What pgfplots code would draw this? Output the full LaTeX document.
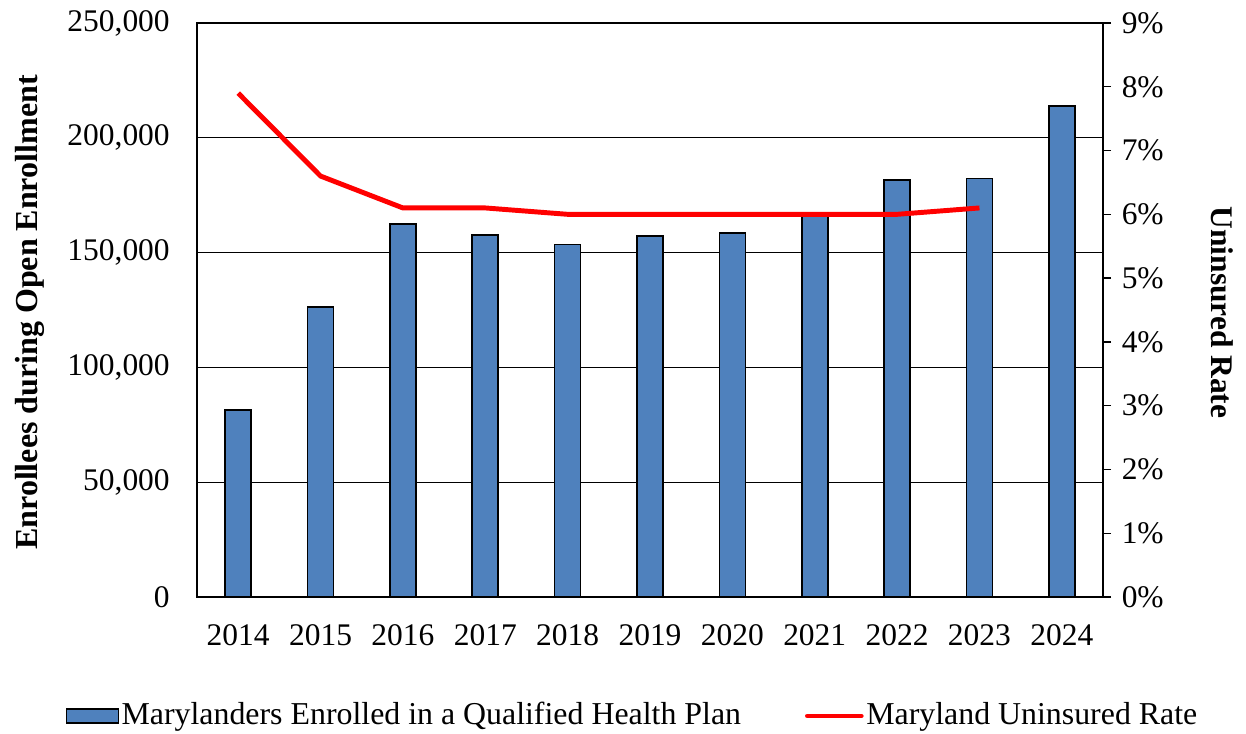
\documentclass[border=0pt]{standalone}
\usepackage{pgfplots}
\pgfplotsset{compat=1.18}
\usepackage{fontspec}
\setmainfont{Liberation Serif}
\definecolor{barblue}{HTML}{4F81BD}
\begin{document}
\fontsize{23.6}{28}\selectfont
\begin{tikzpicture}[x=0.75pt,y=0.75pt]
\useasboundingbox (0,0) rectangle (1246,734);
\begin{axis}[
  at={(147.75pt,102.75pt)}, anchor=south west,
  scale only axis, width=679.5pt, height=430.5pt,
  xmin=-0.5, xmax=10.5, ymin=0, ymax=250000,
  scaled y ticks=false,
  ybar, bar width=19.5pt,
  xtick={0,...,10},
  xticklabels={2014,2015,2016,2017,2018,2019,2020,2021,2022,2023,2024},
  ytick={0,50000,100000,150000,200000,250000},
  yticklabels={0,{50,000},{100,000},{150,000},{200,000},{250,000}},
  /pgf/number format/assume math mode=true,
  xtick style={draw=none}, ytick style={draw=none},
  ymajorgrids, grid style={black, line width=1pt},
  axis line style={black, line width=1pt},
  xticklabel style={yshift=-8.6pt},
  yticklabel style={xshift=-12.4pt},
  ylabel={\fontsize{24}{28}\selectfont\textbf{Enrollees during Open Enrollment}},
  ylabel style={at={(axis description cs:-0.1843,0.4956)}, anchor=center},
  legend style={at={(axis description cs:0.481,-0.2073)}, anchor=center, draw=none, fill=none,
    font=\fontsize{23.9}{28}\selectfont,
    legend columns=2, /tikz/every even column/.append style={column sep=46pt}},
  legend cell align=left,
]
\addplot[fill=barblue, draw=black, line width=1.2pt,
  legend image code/.code={\draw[fill=barblue, draw=black, line width=1pt] (0pt,-5.25pt) rectangle (39pt,5.25pt);}]
  coordinates {(0,81500) (1,126300) (2,162400) (3,157600) (4,153600) (5,157200) (6,158500) (7,166000) (8,181600) (9,182200) (10,213900)};
\addlegendentry{Marylanders Enrolled in a Qualified Health Plan}
\addlegendimage{legend image code/.code={\draw[red, line width=3.5pt, line cap=round] (0pt,0pt) -- (40.5pt,0pt);}}
\addlegendentry{Maryland Uninsured Rate}
\end{axis}
\begin{axis}[
  at={(147.75pt,102.75pt)}, anchor=south west,
  scale only axis, width=679.5pt, height=430.5pt,
  xmin=-0.5, xmax=10.5, ymin=0, ymax=9,
  axis y line*=right, axis x line=none,
  ytick={0,1,2,3,4,5,6,7,8,9},
  yticklabels={0\%,1\%,2\%,3\%,4\%,5\%,6\%,7\%,8\%,9\%},
  tick align=outside, major tick length=6pt,
  ytick style={black, line width=1pt},
  axis line style={black, line width=1pt},
  ylabel={\textbf{Uninsured Rate}},
  ylabel style={at={(axis description cs:1.1313,0.4956)}, anchor=center, rotate=180},
]
\addplot[red, line width=3.7pt, line join=round, no markers]
  coordinates {(0,7.9) (1,6.6) (2,6.1) (3,6.1) (4,6.0) (5,6.0) (6,6.0) (7,6.0) (8,6.0) (9,6.1)};
\end{axis}
\end{tikzpicture}
\end{document}
